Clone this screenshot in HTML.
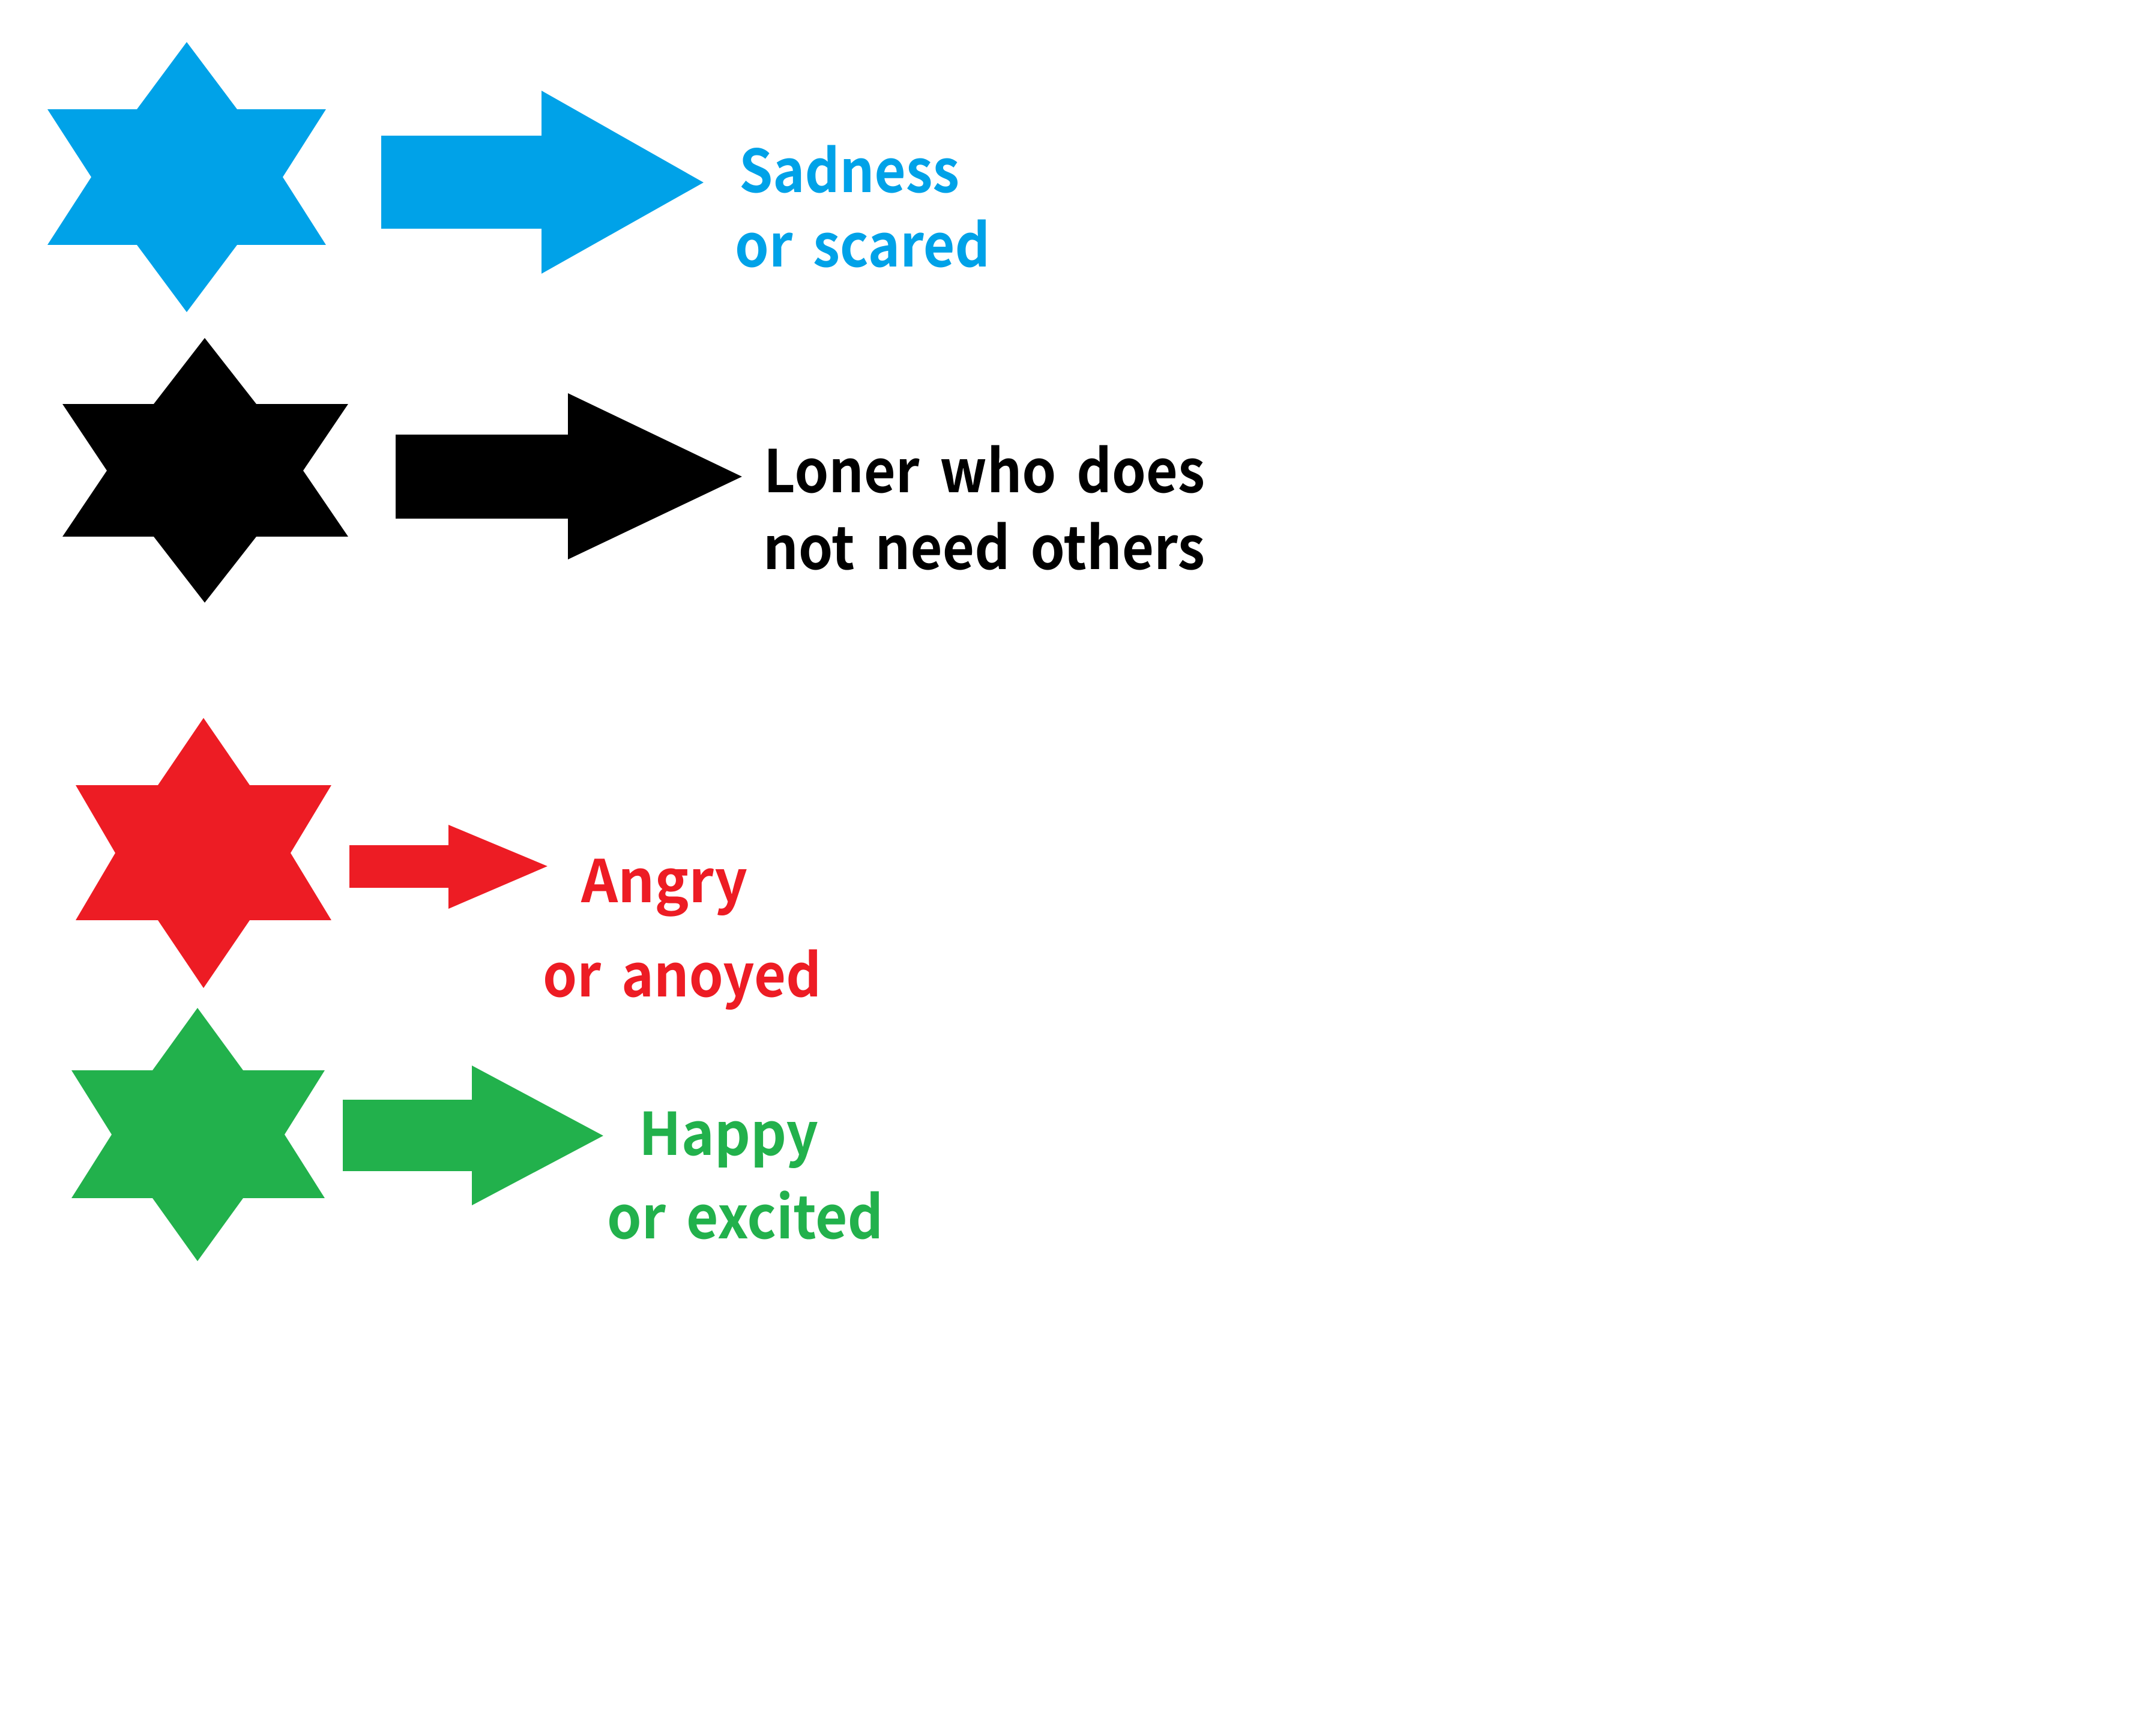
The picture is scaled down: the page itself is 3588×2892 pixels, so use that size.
<!DOCTYPE html>
<html>
<head>
<meta charset="utf-8">
<style>
html,body{margin:0;padding:0;background:#fff;width:3588px;height:2892px;overflow:hidden}
svg{display:block}
text{font-family:"Noto Sans CJK KR","Liberation Sans",sans-serif;font-weight:700;font-size:98px;word-spacing:14px}
</style>
</head>
<body>
<svg width="3588" height="2892" viewBox="0 0 3588 2892" xmlns="http://www.w3.org/2000/svg">
<rect width="3588" height="2892" fill="#fff"/>
<!-- Blue -->
<g fill="#00A2E8">
<polygon points="311,70 395,182 543,182 471,295 543,408 395,408 311,520 228,408 79,408 152,295 79,182 228,182"/>
<polygon points="635,226 902,226 902,151 1172,304 902,456 902,381 635,381"/>
<text x="1231" y="320" textLength="367" lengthAdjust="spacingAndGlyphs">Sadness</text>
<text x="1224" y="444" textLength="425" lengthAdjust="spacingAndGlyphs">or scared</text>
</g>
<!-- Black -->
<g fill="#000">
<polygon points="341,563 427,673 580,673 505,784 580,894 427,894 341,1004 256,894 104,894 178,784 104,673 256,673"/>
<polygon points="659,724 946,724 946,655 1236,794 946,932 946,864 659,864"/>
<text x="1272" y="820" textLength="735" lengthAdjust="spacingAndGlyphs">Loner who does</text>
<text x="1271" y="948" textLength="736" lengthAdjust="spacingAndGlyphs">not need others</text>
</g>
<!-- Red -->
<g fill="#ED1C24">
<polygon points="339,1196 416,1308 552,1308 484,1421 552,1533 416,1533 339,1646 263,1533 126,1533 192,1421 126,1308 263,1308"/>
<polygon points="582,1408 747,1408 747,1374 912,1443 747,1514 747,1479 582,1479"/>
<text x="968" y="1503" textLength="277" lengthAdjust="spacingAndGlyphs">Angry</text>
<text x="904" y="1660" textLength="464" lengthAdjust="spacingAndGlyphs">or anoyed</text>
</g>
<!-- Green -->
<g fill="#22B14C">
<polygon points="329,1679 405,1783 541,1783 474,1890 541,1996 405,1996 329,2101 254,1996 119,1996 186,1890 119,1783 254,1783"/>
<polygon points="571,1832 786,1832 786,1775 1005,1892 786,2008 786,1951 571,1951"/>
<text x="1064" y="1924" textLength="299" lengthAdjust="spacingAndGlyphs">Happy</text>
<text x="1011" y="2063" textLength="460" lengthAdjust="spacingAndGlyphs">or excited</text>
</g>
</svg>
</body>
</html>
